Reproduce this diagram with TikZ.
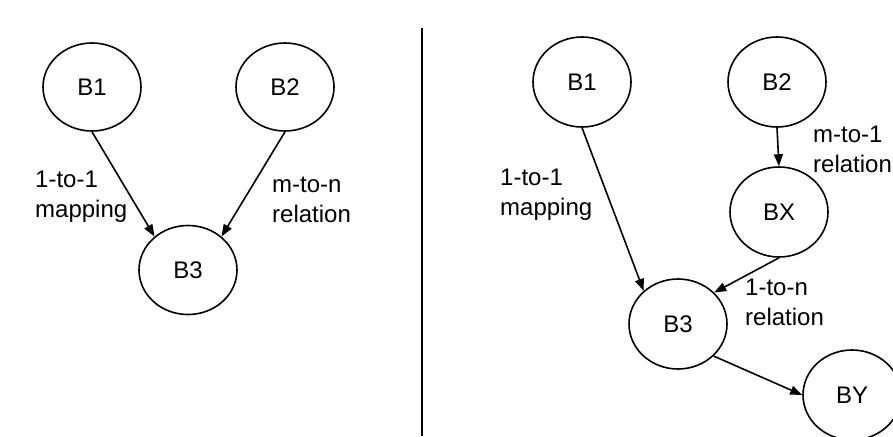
\documentclass[tikz,border=0pt]{standalone}
\usepackage{fontspec}
\setmainfont{Liberation Sans}
\usetikzlibrary{shapes.geometric,arrows.meta}
\begin{document}
\begin{tikzpicture}[x=1pt,y=-1pt,
  block/.style={ellipse,draw,line width=1.6pt,inner sep=0pt,
    minimum width=98pt,minimum height=90pt,font=\fontsize{24}{30}\selectfont},
  link/.style={line width=1.6pt,-{Triangle[length=12pt,width=9pt]}},
  % base anchor of a two-line note sits on its second line
  note/.style={align=left,inner sep=0pt,anchor=base west,
    font=\fontsize{24}{30}\selectfont}]
\useasboundingbox (0,0) rectangle (893,436);

% left panel
\node[block,minimum height=88pt] (lb1) at (92,87) {B1};
\node[block,minimum height=88pt] (lb2) at (285,87) {B2};
\node[block,minimum height=89pt] (lb3) at (188,270) {B3};
\draw[link] (lb1.south) -- (lb3.135);
\draw[link] (lb2.south) -- (lb3.45);
\node[note] (lmap) at (35,217) {1-to-1\\mapping};
\node[note] (lrel) at (272,222) {m-to-n\\relation};

% divider
\coordinate (dtop) at (422,28);
\coordinate (dbot) at (422,436);
\draw[line width=1.6pt] (dtop) -- (dbot);

% right panel
\node[block] (rb1) at (582,82) {B1};
\node[block] (rb2) at (777,82) {B2};
\node[block] (rbx) at (779,212) {BX};
\node[block] (rb3) at (678,324) {B3};
\node[block] (rby) at (852,395) {BY};
\draw[link] (rb1.south) -- (rb3.136);
\draw[link] (rb2.south) -- (rbx.north);
\draw[link] (rbx.south) -- (rb3.41);
\draw[link] (rb3.-42) -- (rby.west);
\node[note] (rmap) at (500,215) {1-to-1\\mapping};
\node[note] (rrel1) at (813,172) {m-to-1\\relation};
\node[note] (rrel2) at (745,325) {1-to-n\\relation};
\end{tikzpicture}
\end{document}
